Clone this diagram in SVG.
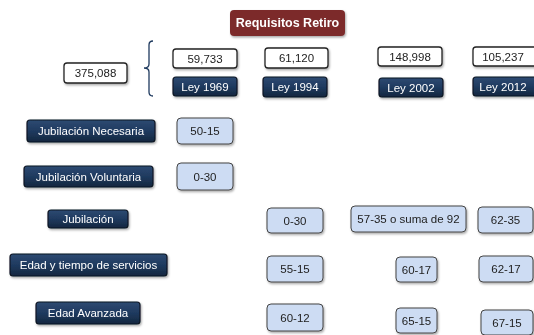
<svg xmlns="http://www.w3.org/2000/svg" width="534" height="335" viewBox="0 0 534 335">
<defs>
<linearGradient id="navy" x1="0" y1="0" x2="0" y2="1">
<stop offset="0" stop-color="#2e4a72"/>
<stop offset="0.5" stop-color="#1f3a5f"/>
<stop offset="1" stop-color="#14273f"/>
</linearGradient>
<filter id="sh" x="-10%" y="-20%" width="130%" height="160%">
<feDropShadow dx="1" dy="1.5" stdDeviation="1" flood-color="#000" flood-opacity="0.35"/>
</filter>
</defs>
<style>
text{font-family:"Liberation Sans",Arial,sans-serif;text-anchor:middle;dominant-baseline:central}
.title rect{fill:#7b2b2b}
.title text{fill:#fff;font-weight:bold;font-size:12.5px}
.num rect{fill:#fff;stroke:#222;stroke-width:1.3}
.num text{fill:#222;font-size:11.5px}
.ley rect,.lbl rect{fill:url(#navy);stroke:#0d1624;stroke-width:1.2}
.ley text,.lbl text{fill:#fff;font-size:11.5px}
.val rect{fill:#cddcf3;stroke:#444;stroke-width:1}
.val text{fill:#222;font-size:11.5px}
</style>
<g id="title" class="title" filter="url(#sh)"><rect x="230" y="10" width="115" height="26" rx="4"/><text x="287.5" y="23">Requisitos Retiro</text></g>
<g id="total" class="num" filter="url(#sh)"><rect x="64" y="63" width="63" height="20" rx="3"/><text x="95.5" y="73">375,088</text></g>
<g id="connectors"><path d="M153,41 Q149,41 149,45 L149,64 Q149,68 144,68 Q149,68 149,72 L149,92 Q149,96 153,96" fill="none" stroke="#1f3a5f" stroke-width="1.3"/></g>
<g id="n1969" class="num" filter="url(#sh)"><rect x="173" y="49" width="64" height="19" rx="3"/><text x="205" y="58.5">59,733</text></g>
<g id="n1994" class="num" filter="url(#sh)"><rect x="265" y="48" width="63" height="20" rx="3"/><text x="296.5" y="58">61,120</text></g>
<g id="n2002" class="num" filter="url(#sh)"><rect x="378" y="47" width="64" height="19" rx="3"/><text x="410" y="56.5">148,998</text></g>
<g id="n2012" class="num" filter="url(#sh)"><rect x="473" y="47" width="64" height="19" rx="3"/><text x="503" y="56.5">105,237</text></g>
<g id="ley1969" class="ley" filter="url(#sh)"><rect x="173" y="77" width="64" height="19" rx="3"/><text x="205" y="86.5">Ley 1969</text></g>
<g id="ley1994" class="ley" filter="url(#sh)"><rect x="263" y="77" width="64" height="20" rx="3"/><text x="295" y="87">Ley 1994</text></g>
<g id="ley2002" class="ley" filter="url(#sh)"><rect x="379" y="78" width="64" height="19" rx="3"/><text x="411" y="87.5">Ley 2002</text></g>
<g id="ley2012" class="ley" filter="url(#sh)"><rect x="473" y="77" width="64" height="19" rx="3"/><text x="503" y="86.5">Ley 2012</text></g>
<g id="lbl-necesaria" class="lbl" filter="url(#sh)"><rect x="27" y="120" width="128" height="22" rx="3"/><text x="91" y="131">Jubilación Necesaria</text></g>
<g id="lbl-voluntaria" class="lbl" filter="url(#sh)"><rect x="24" y="166" width="129" height="21" rx="3"/><text x="88.5" y="176.5">Jubilación Voluntaria</text></g>
<g id="lbl-jubilacion" class="lbl" filter="url(#sh)"><rect x="48" y="210" width="80" height="18" rx="3"/><text x="88" y="219">Jubilación</text></g>
<g id="lbl-edadtiempo" class="lbl" filter="url(#sh)"><rect x="10" y="254" width="157" height="22" rx="3"/><text x="88.5" y="265">Edad y tiempo de servicios</text></g>
<g id="lbl-edadavanzada" class="lbl" filter="url(#sh)"><rect x="36" y="302" width="104" height="22" rx="3"/><text x="88" y="313">Edad Avanzada</text></g>
<g id="v-50-15" class="val" filter="url(#sh)"><rect x="177" y="118" width="56" height="26" rx="4"/><text x="205" y="131">50-15</text></g>
<g id="v-0-30a" class="val" filter="url(#sh)"><rect x="177" y="163" width="56" height="27" rx="4"/><text x="205" y="176.5">0-30</text></g>
<g id="v-0-30b" class="val" filter="url(#sh)"><rect x="267" y="208" width="56" height="25" rx="4"/><text x="295" y="220.5">0-30</text></g>
<g id="v-57-35" class="val" filter="url(#sh)"><rect x="351" y="206" width="115" height="26" rx="4"/><text x="408.5" y="219">57-35 o suma de 92</text></g>
<g id="v-62-35" class="val" filter="url(#sh)"><rect x="478" y="207" width="55" height="26" rx="4"/><text x="505.5" y="220">62-35</text></g>
<g id="v-55-15" class="val" filter="url(#sh)"><rect x="267" y="256" width="56" height="26" rx="4"/><text x="295" y="269">55-15</text></g>
<g id="v-60-17" class="val" filter="url(#sh)"><rect x="396" y="257" width="41" height="25" rx="4"/><text x="416.5" y="269.5">60-17</text></g>
<g id="v-62-17" class="val" filter="url(#sh)"><rect x="479" y="256" width="54" height="26" rx="4"/><text x="506" y="269">62-17</text></g>
<g id="v-60-12" class="val" filter="url(#sh)"><rect x="267" y="304" width="56" height="27" rx="4"/><text x="295" y="317.5">60-12</text></g>
<g id="v-65-15" class="val" filter="url(#sh)"><rect x="396" y="308" width="41" height="25" rx="4"/><text x="416.5" y="320.5">65-15</text></g>
<g id="v-67-15" class="val" filter="url(#sh)"><rect x="481" y="310" width="52" height="25" rx="4"/><text x="507" y="322.5">67-15</text></g>
</svg>
